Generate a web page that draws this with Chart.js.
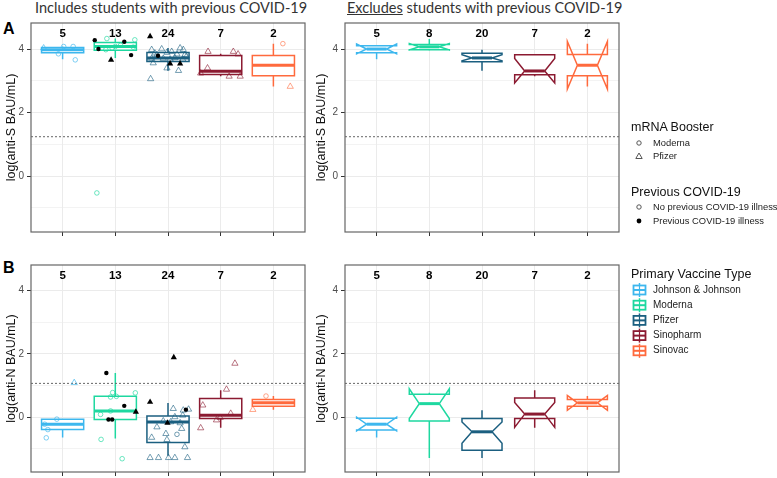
<!DOCTYPE html>
<html><head><meta charset="utf-8">
<script src="https://cdn.jsdelivr.net/npm/chart.js@4.4.1/dist/chart.umd.min.js"></script>
<style>
html,body{margin:0;padding:0;background:#fff;}
body{width:777px;height:478px;position:relative;overflow:hidden;font-family:"Liberation Sans",Arial,sans-serif;}
canvas{position:absolute;}
.ttl{position:absolute;font-family:Lato,"Open Sans",sans-serif;font-size:14.5px;color:#333;white-space:nowrap;top:-1px;line-height:18px;}
.tag{position:absolute;font-weight:bold;font-size:16px;color:#000;line-height:16px;}
.lt{position:absolute;font-size:12.5px;color:#111;white-space:nowrap;line-height:16px;}
.li{position:absolute;font-size:9.4px;color:#222;white-space:nowrap;line-height:12px;}
svg{position:absolute;left:0;top:0;}
</style></head><body>

<div class="ttl" style="left:35px">Includes students with previous COVID-19</div>
<div class="ttl" style="left:347px"><u>Excludes</u> students with previous COVID-19</div>
<div class="tag" style="left:3px;top:21px">A</div>
<div class="tag" style="left:3px;top:260px">B</div>

<canvas id="cTL" width="312" height="233" style="left:0;top:11px"></canvas>
<canvas id="cTR" width="316" height="233" style="left:310px;top:11px"></canvas>
<canvas id="cBL" width="312" height="231" style="left:0;top:253px"></canvas>
<canvas id="cBR" width="316" height="231" style="left:310px;top:253px"></canvas>

<svg width="777" height="478" id="lg"></svg>
<div class="lt" style="left:631px;top:119px">mRNA Booster</div>
<div class="li" style="left:653px;top:137px">Moderna</div>
<div class="li" style="left:653px;top:150px">Pfizer</div>
<div class="lt" style="left:631px;top:184px">Previous COVID-19</div>
<div class="li" style="left:653px;top:201px">No previous COVID-19 illness</div>
<div class="li" style="left:653px;top:215px">Previous COVID-19 illness</div>
<div class="lt" style="left:631px;top:266px">Primary Vaccine Type</div>
<div id="vleg"></div>

<script>
// ---------- data ----------
const categories = ['Johnson & Johnson','Moderna','Pfizer','Sinopharm','Sinovac'];
const vaccineColors = ['#3DB7EE','#1ED8A0','#1B5F80','#8B1A31','#FF6A3D'];
const pointColors = ['rgba(61,183,238,0.65)','rgba(30,216,160,0.65)','rgba(27,95,128,0.6)','rgba(139,26,49,0.6)','rgba(255,106,61,0.6)'];
const countsIncludes = [5,13,24,7,2];
const countsExcludes = [5,8,20,7,2];
const yTicks = [-1,0,1,2,3,4];
const xTicks = [1,2,3,4,5];
const thresholdS = 1.24;
const thresholdN = 1.07;

// box stats: [lower whisker, q1, median, q3, upper whisker]
const boxS_inc = [[3.68,3.88,3.98,4.05,4.08],[3.72,3.96,4.08,4.21,4.33],[3.32,3.61,3.72,3.89,4.03],[3.14,3.20,3.30,3.80,3.85],[2.82,3.16,3.49,3.80,4.17]];
const boxN_inc = [[-0.64,-0.39,-0.22,-0.06,-0.06],[-0.67,-0.07,0.20,0.66,1.40],[-1.22,-0.80,-0.15,0.04,0.45],[-0.33,-0.04,0.06,0.59,0.85],[0.24,0.35,0.455,0.56,0.67]];
// notched: [lower whisker, q1, median, q3, upper whisker, notch low, notch high]
const boxS_exc = [[3.68,3.88,4.00,4.10,4.10,3.85,4.16],[3.96,3.98,4.07,4.14,4.32,3.97,4.17],[3.32,3.60,3.72,3.87,3.98,3.63,3.82],[3.14,3.19,3.31,3.82,3.84,2.93,3.70],[2.82,3.16,3.49,3.83,4.17,2.74,4.24]];
const boxN_exc = [[-0.64,-0.40,-0.22,-0.03,-0.03,-0.43,0.00],[-1.29,-0.12,0.43,0.73,0.77,-0.04,0.90],[-1.29,-1.04,-0.46,-0.04,0.22,-0.82,-0.15],[-0.33,-0.04,0.10,0.61,0.85,-0.32,0.47],[0.24,0.35,0.455,0.56,0.67,0.22,0.69]];

// points: [jitter, value, type]  type: M/P = booster, 0/1 = previous COVID-19
const ptsS_JJ = [[-0.36,4.03,'P0'],[0.02,4.08,'M0'],[0.20,4.08,'M0'],[-0.08,3.85,'M0'],[0.24,3.66,'M0']];
const ptsS_MOD = [[-0.39,4.28,'M1'],[-0.32,4.00,'M1'],[-0.16,4.33,'M0'],[-0.18,3.98,'M0'],[0.00,4.08,'M0'],[-0.06,4.03,'M0'],[0.17,4.23,'M1'],[0.37,4.29,'M0'],[0.34,4.06,'M0'],[0.30,3.81,'M1'],[-0.08,3.66,'P1'],[-0.35,-0.53,'M0'],[0.10,4.12,'M0']];
const ptsS_PFZ = [[-0.31,3.98,'P0'],[-0.21,3.82,'P0'],[-0.12,4.00,'P0'],[-0.02,3.89,'P0'],[0.07,3.92,'P0'],[0.13,3.72,'P0'],[0.23,4.03,'P0'],[0.29,3.98,'P0'],[0.32,3.82,'P0'],[0.20,3.32,'P0'],[-0.02,3.40,'P0'],[-0.28,3.56,'P0'],[-0.31,3.70,'P0'],[-0.09,3.70,'P0'],[0.04,3.68,'P0'],[0.28,3.68,'P0'],[-0.25,3.87,'P0'],[0.17,3.84,'P0'],[0.35,3.77,'P0'],[-0.33,3.06,'P0'],[-0.34,4.40,'P1'],[0.04,3.54,'P1'],[0.23,3.54,'P1'],[-0.19,3.79,'M1']];
const ptsS_SPH = [[-0.24,3.92,'P0'],[0.24,3.92,'P0'],[0.33,3.84,'P0'],[-0.25,3.40,'P0'],[-0.38,3.24,'P0'],[0.16,3.14,'P0'],[0.37,3.14,'P0']];
const ptsS_SNV = [[0.18,4.17,'M0'],[0.32,2.82,'P0']];

const ptsN_JJ = [[0.22,1.09,'P0'],[-0.11,-0.06,'M0'],[-0.34,-0.22,'M0'],[-0.28,-0.39,'M0'],[-0.31,-0.65,'M0']];
const ptsN_MOD = [[-0.17,1.40,'M1'],[-0.05,0.78,'M0'],[-0.09,0.64,'M0'],[0.02,0.66,'M0'],[0.38,0.77,'M0'],[0.17,0.36,'M1'],[-0.28,0.09,'M0'],[-0.09,0.20,'M0'],[0.39,0.17,'P1'],[-0.13,-0.07,'M1'],[-0.06,-0.07,'M1'],[-0.27,-0.70,'M0'],[0.13,-1.31,'M0']];
const ptsN_PFZ = [[-0.34,0.48,'P1'],[0.11,1.89,'P1'],[-0.01,-0.18,'P1'],[0.34,0.24,'M1'],[-0.31,-0.64,'P0'],[-0.09,-0.12,'P0'],[-0.04,-0.52,'P0'],[-0.02,-0.71,'P0'],[0.10,0.27,'P0'],[0.13,0.01,'P0'],[0.23,-0.18,'P0'],[0.26,-0.36,'P0'],[0.28,0.06,'P0'],[0.39,0.25,'P0'],[0.32,-0.94,'P0'],[0.05,-0.15,'P0'],[-0.21,-0.31,'P0'],[0.29,0.22,'P0'],[-0.34,-1.28,'P0'],[-0.18,-1.28,'P0'],[0.01,-1.28,'P0'],[0.13,-1.28,'P0'],[0.37,-1.28,'P0'],[0.17,-0.54,'M0']];
const ptsN_SPH = [[0.27,1.70,'P0'],[0.11,0.88,'P0'],[-0.34,0.38,'P0'],[0.19,0.12,'P0'],[-0.01,-0.01,'P0'],[-0.08,-0.09,'P0'],[-0.38,-0.34,'P0']];
const ptsN_SNV = [[-0.14,0.67,'M0'],[-0.39,0.24,'P0']];

// ---------- drawing ----------
const FONT = '"Liberation Sans", Arial, sans-serif';
Chart.defaults.font.family = FONT;
const countY = 4.47;

function buildPoints(groups, type){
  const out = [];
  groups.forEach((g,i)=>g.forEach(p=>{ if(p[2]===type) out.push({x:i+1+p[0], y:p[1], c:i}); }));
  return out;
}

const boxPlugin = {
  id:'boxes',
  beforeDatasetsDraw(chart, args, o){
    const ctx = chart.ctx, xs = chart.scales.x, ys = chart.scales.y;
    const Y = v => ys.getPixelForValue(v);
    o.stats.forEach((s,i)=>{
      const [lo,q1,med,q3,hi,nlo,nhi] = s;
      const cx = xs.getPixelForValue(i+1);
      const x0 = xs.getPixelForValue(i+1-o.half), x1 = xs.getPixelForValue(i+1+o.half);
      ctx.save();
      ctx.strokeStyle = vaccineColors[i]; ctx.lineWidth = 1.5; ctx.lineJoin='miter';
      ctx.beginPath();
      ctx.moveTo(cx,Y(q3)); ctx.lineTo(cx,Y(hi));
      ctx.moveTo(cx,Y(q1)); ctx.lineTo(cx,Y(lo));
      ctx.stroke();
      ctx.beginPath();
      let mx0 = x0, mx1 = x1;
      if(o.notched){
        const nw = (x1-x0)*0.25; mx0 = x0+nw; mx1 = x1-nw;
        ctx.moveTo(x0,Y(q3)); ctx.lineTo(x0,Y(nhi)); ctx.lineTo(x0+nw,Y(med)); ctx.lineTo(x0,Y(nlo)); ctx.lineTo(x0,Y(q1));
        ctx.lineTo(x1,Y(q1)); ctx.lineTo(x1,Y(nlo)); ctx.lineTo(x1-nw,Y(med)); ctx.lineTo(x1,Y(nhi)); ctx.lineTo(x1,Y(q3));
        ctx.closePath();
      } else {
        ctx.rect(x0,Y(q3),x1-x0,Y(q1)-Y(q3));
      }
      ctx.fillStyle = '#fff'; ctx.fill(); ctx.stroke();
      ctx.lineWidth = 3;
      ctx.beginPath(); ctx.moveTo(mx0,Y(med)); ctx.lineTo(mx1,Y(med)); ctx.stroke();
      ctx.restore();
    });
  },
  afterDatasetsDraw(chart, args, o){
    const ctx = chart.ctx, xs = chart.scales.x, ys = chart.scales.y, a = chart.chartArea;
    ctx.save();
    ctx.font = 'bold 11.5px ' + FONT;
    ctx.fillStyle = '#000'; ctx.textAlign='center'; ctx.textBaseline='middle';
    o.counts.forEach((n,i)=>ctx.fillText(String(n), xs.getPixelForValue(i+1), ys.getPixelForValue(countY)));
    ctx.strokeStyle = '#666'; ctx.lineWidth = 1.2;
    ctx.strokeRect(a.left, a.top, a.right-a.left, a.bottom-a.top);
    ctx.restore();
  }
};

function makePanel(id, cfg){
  const groups = cfg.groups;
  const ds = [];
  ds.push({type:'line', data:[{x:0.4,y:cfg.threshold},{x:5.6,y:cfg.threshold}], borderColor:'#666', borderWidth:1, borderDash:[2,2], pointRadius:0, order:10});
  if(groups){
    const col = ctx => pointColors[ctx.raw ? ctx.raw.c : 0];
    ds.push({data:buildPoints(groups,'M0'), pointStyle:'circle', pointRadius:2.3, pointBorderWidth:1, pointBorderColor:col, pointBackgroundColor:'rgba(0,0,0,0)', order:1});
    ds.push({data:buildPoints(groups,'P0'), pointStyle:'triangle', pointRadius:3.6, pointBorderWidth:1, pointBorderColor:col, pointBackgroundColor:'rgba(0,0,0,0)', order:1});
    ds.push({data:buildPoints(groups,'M1'), pointStyle:'circle', pointRadius:2.2, pointBorderWidth:0, pointBorderColor:'#000', pointBackgroundColor:'#000', order:0});
    ds.push({data:buildPoints(groups,'P1'), pointStyle:'triangle', pointRadius:3.6, pointBorderWidth:0, pointBorderColor:'#000', pointBackgroundColor:'#000', order:0});
  }
  new Chart(document.getElementById(id), {
    type:'scatter',
    data:{datasets:ds},
    plugins:[boxPlugin],
    options:{
      responsive:false, animation:false, devicePixelRatio:1,
      layout:{padding:{top:12, right:7, left:0, bottom:0}},
      plugins:{legend:{display:false}, tooltip:{enabled:false},
        boxes:{stats:cfg.stats, notched:cfg.notched, half:cfg.notched?0.38:0.4, counts:cfg.counts}},
      scales:{
        x:{type:'linear', min:0.4, max:5.6,
          afterBuildTicks:a=>{a.ticks = xTicks.map(v=>({value:v}));},
          ticks:{callback:()=> '', font:{size:1}},
          grid:{color:'#EBEBEB', lineWidth:1, tickLength:4, tickColor:'#333', tickWidth:1},
          border:{display:false},
          afterFit:a=>{a.height = 12;}},
        y:{type:'linear', min:cfg.yMin, max:cfg.yMax,
          afterBuildTicks:a=>{a.ticks = yTicks.map(v=>({value:v}));},
          ticks:{callback:v=> (v%2===0 ? String(v) : ''), color:'#4D4D4D', font:{size:10}, padding:3},
          grid:{color:'#EBEBEB', lineWidth:c=> (c.tick && c.tick.value%2===0) ? 1 : 0.6, tickLength:4,
                tickColor:c=> (c.tick && c.tick.value%2===0) ? '#333' : 'rgba(0,0,0,0)', tickWidth:1},
          border:{display:false},
          title:{display:true, text:cfg.yTitle, color:'#111', font:{size:12.5}, padding:{top:4,bottom:0}},
          afterFit:a=>{a.width = cfg.axisW;}}
      }
    }
  });
}

makePanel('cTL',{yMin:-1.76,yMax:4.82,yTitle:'log(anti-S BAU/mL)',threshold:thresholdS,stats:boxS_inc,notched:false,counts:countsIncludes,axisW:31,
  groups:[ptsS_JJ,ptsS_MOD,ptsS_PFZ,ptsS_SPH,ptsS_SNV]});
makePanel('cTR',{yMin:-1.76,yMax:4.82,yTitle:'log(anti-S BAU/mL)',threshold:thresholdS,stats:boxS_exc,notched:true,counts:countsExcludes,axisW:35});
makePanel('cBL',{yMin:-1.73,yMax:4.81,yTitle:'log(anti-N BAU/mL)',threshold:thresholdN,stats:boxN_inc,notched:false,counts:countsIncludes,axisW:31,
  groups:[ptsN_JJ,ptsN_MOD,ptsN_PFZ,ptsN_SPH,ptsN_SNV]});
makePanel('cBR',{yMin:-1.73,yMax:4.81,yTitle:'log(anti-N BAU/mL)',threshold:thresholdN,stats:boxN_exc,notched:true,counts:countsExcludes,axisW:35});

// ---------- legend ----------
const svg = document.getElementById('lg');
const NS = 'http://www.w3.org/2000/svg';
function el(tag, attrs){ const e = document.createElementNS(NS, tag); for(const k in attrs) e.setAttribute(k, attrs[k]); svg.appendChild(e); return e; }
el('circle',{cx:639,cy:143,r:2.2,fill:'none',stroke:'#555','stroke-width':1});
el('polygon',{points:'639,153 635.8,158.5 642.2,158.5',fill:'none',stroke:'#555','stroke-width':1});
el('circle',{cx:639,cy:207,r:2.2,fill:'none',stroke:'#555','stroke-width':1});
el('circle',{cx:639,cy:221,r:2.4,fill:'#000'});
const vleg = document.getElementById('vleg');
categories.forEach((name,i)=>{
  const cy = 290 + i*15.2, c = vaccineColors[i];
  el('line',{x1:639.5,y1:cy-7,x2:639.5,y2:cy+7,stroke:c,'stroke-width':1.5});
  el('rect',{x:633.5,y:cy-4.5,width:12,height:9,fill:'#fff',stroke:c,'stroke-width':1.8});
  el('line',{x1:633.5,y1:cy,x2:645.5,y2:cy,stroke:c,'stroke-width':2});
  el('line',{x1:639.5,y1:cy-4.5,x2:639.5,y2:cy+4.5,stroke:c,'stroke-width':1.2});
  const d = document.createElement('div'); d.className='li'; d.style.fontSize='10px';
  d.style.left='653px'; d.style.top=(cy-6.5)+'px'; d.textContent=name; vleg.appendChild(d);
});
</script>
</body></html>
